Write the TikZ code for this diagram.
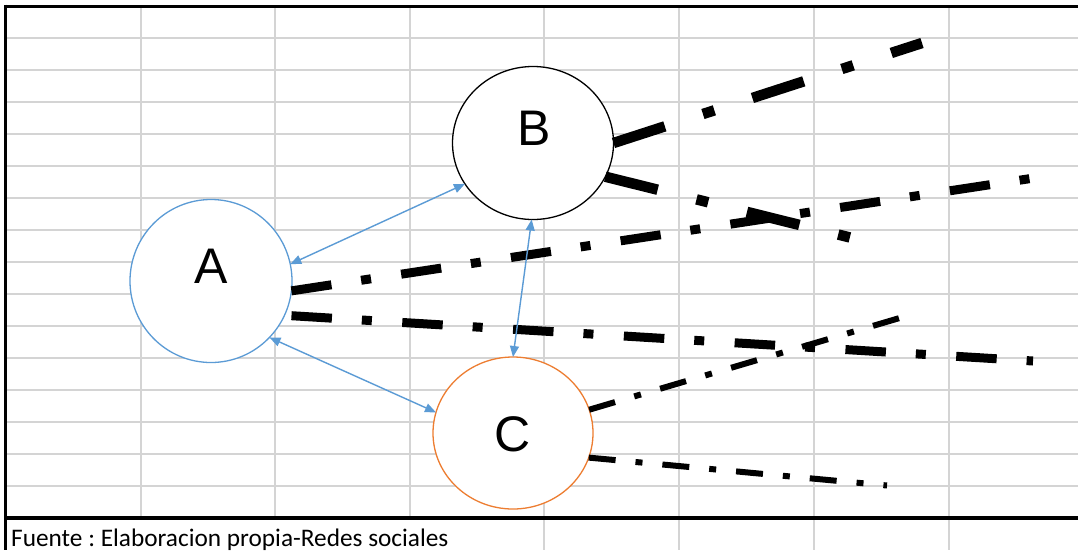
\documentclass[tikz,border=0pt]{standalone}
\usepackage{fontspec}
\setmainfont{Liberation Sans}
\newfontfamily\carlitofont{Carlito}
\usetikzlibrary{shapes.geometric,arrows.meta}
\definecolor{gridgray}{RGB}{212,212,212}
\definecolor{nodeblue}{RGB}{91,155,213}
\definecolor{nodeorange}{RGB}{237,125,49}
\tikzset{
  gridline/.style={gridgray, line width=2pt},
  borderline/.style={black, line width=3pt},
  bubble/.style={ellipse, fill=white, line width=1.3pt, inner sep=0pt, outer sep=0pt},
  letter/.style={font=\fontsize{50}{50}\selectfont, inner sep=0pt},
  link/.style={nodeblue, line width=1.4pt, {Triangle[length=11pt,width=9pt]}-{Triangle[length=11pt,width=9pt]}},
  tieB/.style={line width=10.5pt, dash pattern=on 54pt off 40pt on 12pt off 40pt},
  tieA/.style={line width=9pt, dash pattern=on 40.5pt off 30pt on 10pt off 30.5pt},
  tieC/.style={line width=6pt, dash pattern=on 27pt off 20pt on 7pt off 20pt},
  source/.style={font=\carlitofont\fontsize{25.3}{26}\selectfont\frenchspacing, inner sep=0pt, anchor=base west},
}
\begin{document}
\begin{tikzpicture}[x=1pt,y=-1pt]
\useasboundingbox (0,0) rectangle (1078,550);
\fill[white] (0,0) rectangle (1078,550);
% grid
\foreach \k in {0,...,14} \draw[gridline] (5,{38+32*\k}) -- (1078,{38+32*\k});
\foreach \x in {141,275,410} \draw[gridline] (\x,6) -- (\x,517);
\foreach \x in {544,679,814,949} \draw[gridline] (\x,6) -- (\x,550);
% frame
\draw[borderline] (4,6) -- (1078,6);
\draw[borderline] (5.5,4.5) -- (5.5,550);
\draw[borderline, line width=4pt] (4,517.5) -- (1078,517.5);
% nodes
\node[bubble, draw=nodeblue, minimum width=162pt, minimum height=163pt] (A) at (211,281) {};
\node[bubble, draw=black, minimum width=161pt, minimum height=153pt] (B) at (533,143) {};
\node[bubble, draw=nodeorange, minimum width=160pt, minimum height=152pt] (C) at (513,433) {};
\node[letter] (Aname) at (211,266.5) {A};
\node[letter] (Bname) at (534,128.7) {B};
\node[letter] (Cname) at (513,434) {C};
% free ends of the dash-dot lines
\coordinate (Aend1) at (1034,178);
\coordinate (Aend2) at (1033,361);
\coordinate (Bend1) at (922,43);
\coordinate (Bend2) at (850,237.5);
\coordinate (Cend1) at (903,317);
\coordinate (Cend2) at (887,485.5);
\draw[tieA] (A.-7) -- (Aend1);
\draw[tieA, shorten <=7pt] (A.-25.7) -- (Aend2);
\draw[tieB] (B.0) -- (Bend1);
\draw[tieB] (B.-25) -- (Bend2);
\draw[tieC] (C.17) -- (Cend1);
\draw[tieC] (C.-18.7) -- (Cend2);
% connectors
\draw[link] (A.12.5) -- (B.211.5);
\draw[link] (B.269) -- (C.90);
\draw[link] (A.-44) -- (C.165);
% source
\node[source] (fuente) at (11,546) {Fuente : Elaboracion propia-Redes sociales};
\end{tikzpicture}
\end{document}
